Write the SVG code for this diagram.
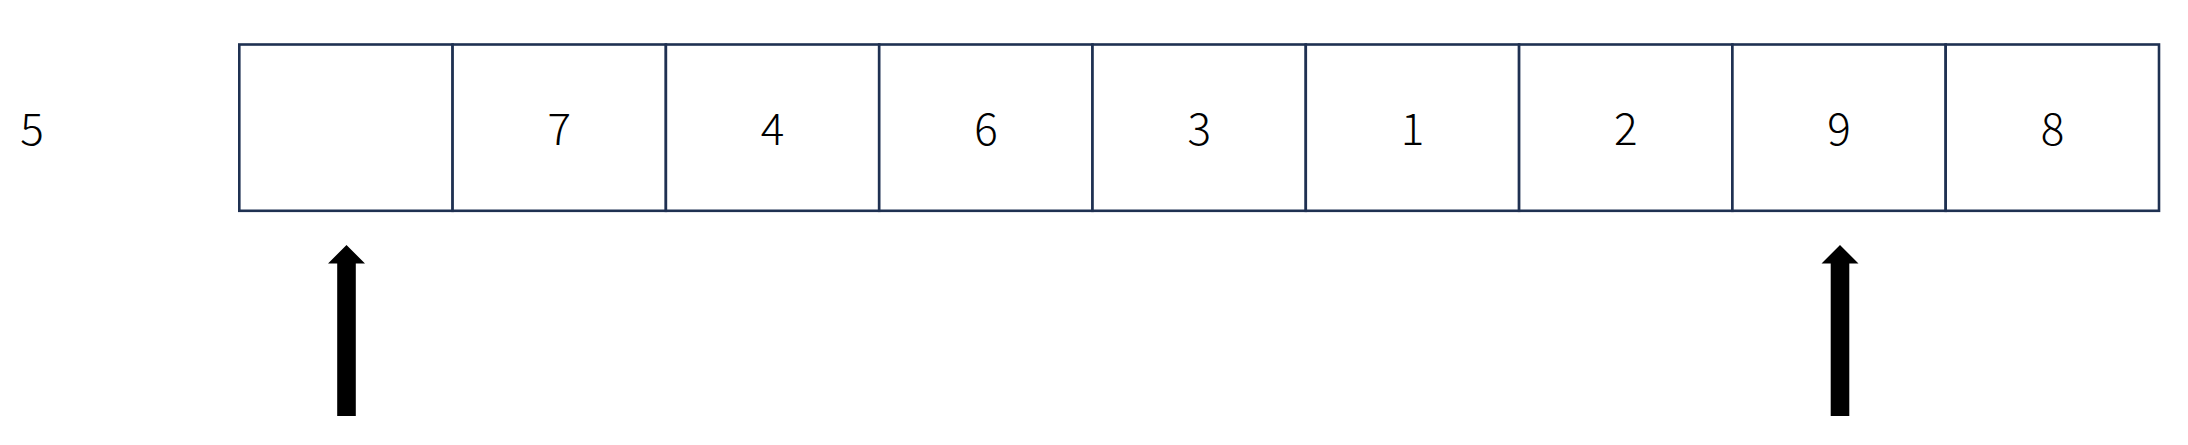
<svg xmlns="http://www.w3.org/2000/svg" width="2188" height="445" viewBox="0 0 2188 445">
<style>
.cell{fill:#ffffff;stroke:#1F3152;stroke-width:2.6}
.num{font-family:"Noto Sans CJK SC","Liberation Sans",sans-serif;font-weight:300;font-size:44px;fill:#000;text-anchor:middle}
.arr{fill:#000}
</style>
<rect width="2188" height="445" fill="#fff"/>
<g id="label5"><text class="num" x="32" y="145">5</text></g>
<g id="cell0"><rect class="cell" x="239.3" y="44.5" width="213.3" height="166.3"/></g>
<g id="cell1"><rect class="cell" x="452.6" y="44.5" width="213.3" height="166.3"/><text class="num" x="559.3" y="145">7</text></g>
<g id="cell2"><rect class="cell" x="665.9" y="44.5" width="213.3" height="166.3"/><text class="num" x="772.6" y="145">4</text></g>
<g id="cell3"><rect class="cell" x="879.2" y="44.5" width="213.3" height="166.3"/><text class="num" x="985.9" y="145">6</text></g>
<g id="cell4"><rect class="cell" x="1092.5" y="44.5" width="213.3" height="166.3"/><text class="num" x="1199.2" y="145">3</text></g>
<g id="cell5"><rect class="cell" x="1305.8" y="44.5" width="213.3" height="166.3"/><text class="num" x="1412.5" y="145">1</text></g>
<g id="cell6"><rect class="cell" x="1519.1" y="44.5" width="213.3" height="166.3"/><text class="num" x="1625.8" y="145">2</text></g>
<g id="cell7"><rect class="cell" x="1732.4" y="44.5" width="213.3" height="166.3"/><text class="num" x="1839.1" y="145">9</text></g>
<g id="cell8"><rect class="cell" x="1945.7" y="44.5" width="213.3" height="166.3"/><text class="num" x="2052.4" y="145">8</text></g>
<g id="connectors">
<polygon class="arr" points="346.5,245 365,263.5 355.8,263.5 355.8,416 337.2,416 337.2,263.5 328,263.5"/>
<polygon class="arr" points="1840,245 1858.5,263.5 1849.3,263.5 1849.3,416 1830.7,416 1830.7,263.5 1821.5,263.5"/>
</g>
</svg>
